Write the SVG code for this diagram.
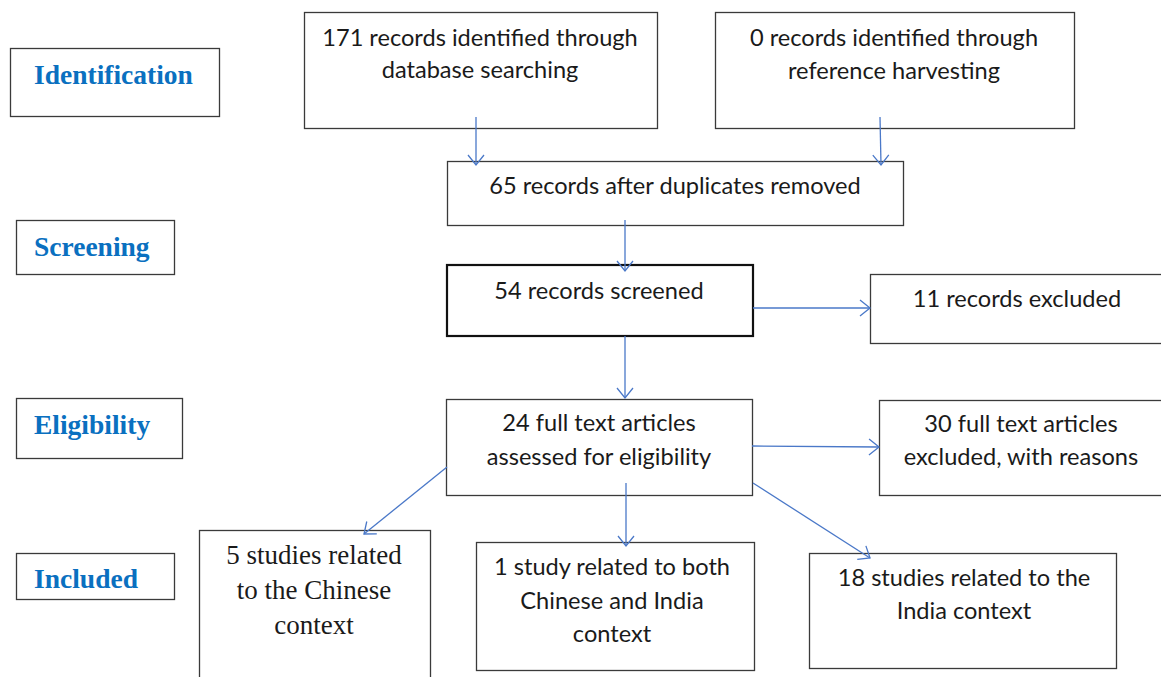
<svg xmlns="http://www.w3.org/2000/svg" width="1161" height="677" viewBox="0 0 1161 677">
<style>
.box{fill:#fff;stroke:#3a3a3a;stroke-width:1.3}
.thick{stroke:#111;stroke-width:2.2}
.t{font-family:Lato,"Open Sans",sans-serif;font-size:23.6px;fill:#1a1a1a;text-anchor:middle}
.s{font-family:"Liberation Serif",serif;font-size:27px;fill:#1a1a1a;text-anchor:middle}
.lab{font-family:"Liberation Serif",serif;font-size:27.5px;font-weight:bold;fill:#0a70c0}
.c{stroke:#4a78c8;stroke-width:1.3;fill:none}
</style>
<defs>
<marker id="arr" markerUnits="userSpaceOnUse" markerWidth="20" markerHeight="20" viewBox="0 0 20 20" refX="18" refY="10" orient="auto">
<path d="M8,2 L18,10 L8,18" fill="none" stroke="#4a78c8" stroke-width="1.3"/>
</marker>
</defs>
<g id="stage-identification"><rect class="box" x="10.5" y="48.5" width="209" height="68"/><text class="lab" x="34" y="84">Identification</text></g>
<g id="stage-screening"><rect class="box" x="16.5" y="220.5" width="158" height="54"/><text class="lab" x="34" y="256">Screening</text></g>
<g id="stage-eligibility"><rect class="box" x="16.5" y="398.5" width="166" height="60"/><text class="lab" x="34" y="434">Eligibility</text></g>
<g id="stage-included"><rect class="box" x="16.5" y="553.5" width="158" height="46"/><text class="lab" x="34" y="588">Included</text></g>

<g id="db"><rect class="box" x="304.5" y="12.5" width="353" height="116"/><text class="t" x="480" y="46">171 records identified through</text><text class="t" x="480" y="78">database searching</text></g>
<g id="ref"><rect class="box" x="715.5" y="12.5" width="359" height="116"/><text class="t" x="894" y="46">0 records identified through</text><text class="t" x="894" y="79">reference harvesting</text></g>
<g id="dedup"><rect class="box" x="447.5" y="161.5" width="456" height="64"/><text class="t" x="675" y="194">65 records after duplicates removed</text></g>
<g id="screened"><rect class="box thick" x="447" y="265" width="306" height="71"/><text class="t" x="599" y="299">54 records screened</text></g>
<g id="excluded"><rect class="box" x="870.5" y="274.5" width="295" height="69"/><text class="t" x="1017" y="307">11 records excluded</text></g>
<g id="fulltext"><rect class="box" x="446.5" y="399.5" width="306" height="96"/><text class="t" x="599" y="431">24 full text articles</text><text class="t" x="599" y="465">assessed for eligibility</text></g>
<g id="ftexcluded"><rect class="box" x="879.5" y="400.5" width="286" height="95"/><text class="t" x="1021" y="432">30 full text articles</text><text class="t" x="1021" y="465">excluded, with reasons</text></g>
<g id="chinese"><rect class="box" x="199.5" y="530.5" width="231" height="160"/><text class="s" x="314" y="564">5 studies related</text><text class="s" x="314" y="599">to the Chinese</text><text class="s" x="314" y="634">context</text></g>
<g id="both"><rect class="box" x="476.5" y="542.5" width="278" height="128"/><text class="t" x="612" y="575">1 study related to both</text><text class="t" x="612" y="609">Chinese and India</text><text class="t" x="612" y="642">context</text></g>
<g id="india"><rect class="box" x="809.5" y="553.5" width="307" height="115"/><text class="t" x="964" y="586">18 studies related to the</text><text class="t" x="964" y="619">India context</text></g>

<g id="connectors">
<line class="c" x1="476" y1="117" x2="476" y2="165" marker-end="url(#arr)"/>
<line class="c" x1="880" y1="117" x2="881" y2="165" marker-end="url(#arr)"/>
<line class="c" x1="625" y1="220" x2="625" y2="271" marker-end="url(#arr)"/>
<line class="c" x1="753" y1="308" x2="870" y2="308" marker-end="url(#arr)"/>
<line class="c" x1="625" y1="336" x2="625" y2="398" marker-end="url(#arr)"/>
<line class="c" x1="752" y1="446" x2="879" y2="447" marker-end="url(#arr)"/>
<line class="c" x1="447" y1="467" x2="364" y2="534" marker-end="url(#arr)"/>
<line class="c" x1="626" y1="483" x2="626" y2="546" marker-end="url(#arr)"/>
<line class="c" x1="753" y1="483" x2="870" y2="558" marker-end="url(#arr)"/>
</g>
</svg>
